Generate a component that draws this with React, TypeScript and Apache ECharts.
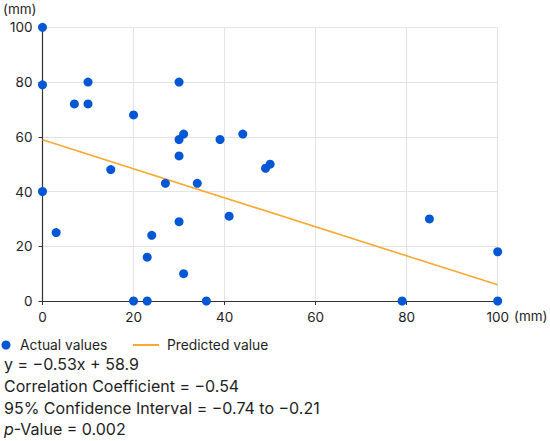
import React, { useEffect, useRef } from "react";
import * as echarts from "echarts";

const actualX = [0, 0, 10, 7, 10, 20, 30, 31, 30, 30, 39, 44, 15, 27, 34, 0, 49, 50, 41, 30, 3, 24, 23, 31, 20, 23, 36, 85, 100, 79, 100];
const actualY = [100, 79, 80, 72, 72, 68, 80, 61, 59, 53, 59, 61, 48, 43, 43, 40, 48.5, 50, 31, 29, 25, 24, 16, 10, 0, 0, 0, 30, 18, 0, 0];
const predictedX = [0, 100];
const predictedY = [58.9, 5.9];
const axisTicks = [0, 20, 40, 60, 80, 100];
const statLines = [
  "y = \u22120.53x + 58.9",
  "Correlation Coefficient = \u22120.54",
  "95% Confidence Interval = \u22120.74 to \u22120.21",
  "{i|p}-Value = 0.002",
];

const FONT = "Inter, 'Noto Sans', sans-serif";
const BLUE = "#0057d6";
const ORANGE = "#f9a930";
const TEXT = "#1e1e1e";
const STAT_SIZE = 16;
const LEGEND_SIZE = 13.8;

export default function App() {
  const ref = useRef<HTMLDivElement>(null);
  useEffect(() => {
    document.body.style.margin = "0";
    const chart = echarts.init(ref.current!, null, { renderer: "svg" });
    const statYs = [365, 387.3, 409, 430];
    chart.setOption({
      animation: false,
      textStyle: { fontFamily: FONT },
      grid: { left: 41.7, right: 52.3, top: 27.3, bottom: 140, containLabel: false },
      xAxis: {
        type: "value",
        min: axisTicks[0],
        max: axisTicks[axisTicks.length - 1],
        interval: 20,
        axisLine: { show: true, lineStyle: { color: "#333", width: 1.2 } },
        axisTick: { show: true, length: 4, lineStyle: { color: "#333" } },
        axisLabel: { color: TEXT, fontSize: 13.5, margin: 9, fontFamily: FONT },
        splitLine: { show: true, lineStyle: { color: "#e4e4e4" } },
      },
      yAxis: {
        type: "value",
        min: axisTicks[0],
        max: axisTicks[axisTicks.length - 1],
        interval: 20,
        name: "(mm)",
        nameLocation: "end",
        nameGap: 11,
        nameTextStyle: { color: TEXT, fontSize: 13.5, fontFamily: FONT, align: "right", padding: [0, 6, 0, 0] },
        axisLine: { show: true, lineStyle: { color: "#333", width: 1.2 } },
        axisTick: { show: true, length: 4, lineStyle: { color: "#333" } },
        axisLabel: { color: TEXT, fontSize: 13.5, margin: 10, fontFamily: FONT },
        splitLine: { show: true, lineStyle: { color: "#e4e4e4" } },
      },
      legend: [
        {
          data: [{ name: "Actual values", icon: "circle" }],
          left: 1.5,
          top: 345 - 9,
          padding: 0,
          itemWidth: 9,
          itemHeight: 9,
          itemGap: 8,
          textStyle: { fontSize: LEGEND_SIZE, color: TEXT, fontFamily: FONT, padding: [0, 0, 0, 4.5], lineHeight: 18 },
        },
        {
          data: [{ name: "Predicted value", icon: "rect" }],
          left: 133,
          top: 345 - 9,
          padding: 0,
          itemWidth: 26,
          itemHeight: 2,
          itemStyle: { color: ORANGE },
          textStyle: { fontSize: LEGEND_SIZE, color: TEXT, fontFamily: FONT, padding: [0, 0, 0, 3], lineHeight: 18 },
        },
      ],
      series: [
        {
          name: "Actual values",
          type: "scatter",
          symbolSize: 9,
          itemStyle: { color: BLUE, opacity: 1 },
          data: actualX.map((x, i) => [x, actualY[i]]),
          z: 3,
        },
        {
          name: "Predicted value",
          type: "line",
          showSymbol: false,
          symbol: "none",
          lineStyle: { color: ORANGE, width: 1.6 },
          itemStyle: { color: ORANGE },
          data: predictedX.map((x, i) => [x, predictedY[i]]),
          z: 2,
        },
      ],
      graphic: [
        {
          type: "text",
          left: 514,
          top: 317 - 8,
          style: { text: "(mm)", fontSize: 13.5, fontFamily: FONT, fill: TEXT },
        },
        ...statLines.map((t, i) => ({
          type: "text",
          left: 4,
          top: statYs[i] - 9.5,
          style: {
            text: t,
            fontSize: STAT_SIZE,
            fontFamily: FONT,
            fill: TEXT,
            rich: { i: { fontStyle: "italic", fontSize: STAT_SIZE, fontFamily: FONT, fill: TEXT } },
          },
        })),
      ],
    });
    return () => chart.dispose();
  }, []);
  return <div ref={ref} style={{ width: 550, height: 441 }} />;
}
